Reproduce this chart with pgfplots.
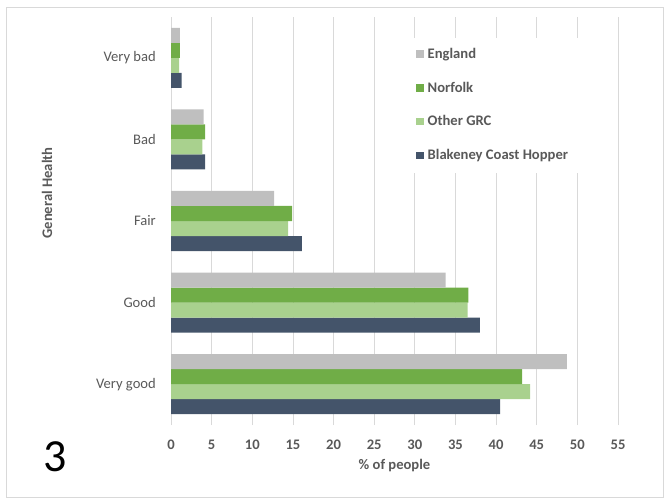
\documentclass[border=0pt]{standalone}
\usepackage{pgfplots}
\pgfplotsset{compat=1.18}
\usepackage{fontspec}
\setmainfont{Carlito}
\definecolor{cEng}{HTML}{BFBFBF}
\definecolor{cNor}{HTML}{70AD47}
\definecolor{cOth}{HTML}{A9D18E}
\definecolor{cBla}{HTML}{44546A}
\definecolor{txt}{HTML}{595959}
\definecolor{grd}{HTML}{D9D9D9}
\begin{document}
\begin{tikzpicture}
\path (0pt,0pt) rectangle (666pt,498pt);
\draw[grd, line width=0.8pt] (6pt,1pt) rectangle (663pt,491pt);
\node[font=\fontsize{46}{46}\selectfont, anchor=center] at (55pt,41pt) {3};
\begin{axis}[
  at={(171pt,73pt)}, anchor=south west,
  scale only axis, width=447pt, height=408pt,
  xbar=0pt, bar width=15pt,
  xmin=0, xmax=55, ymin=-0.5, ymax=4.5,
  xtick={0,5,...,55}, ytick={0,1,2,3,4},
  yticklabels={Very good,Good,Fair,Bad,Very bad},
  xmajorgrids, major grid style={grd, line width=0.8pt},
  axis lines*=left,
  x axis line style={draw=none},
  y axis line style={draw=grd, line width=0.8pt},
  major tick length=0pt,
  /pgf/number format/assume math mode=true,
  xticklabel style={font=\fontsize{14.6}{14.6}\selectfont\bfseries, text=txt, inner sep=0pt, yshift=-15pt},
  yticklabel style={font=\fontsize{14.6}{14.6}\selectfont, text=txt, inner sep=0pt, xshift=-15pt},
  xlabel={\% of people},
  xlabel style={font=\fontsize{14.6}{14.6}\selectfont\bfseries, text=txt, at={(axis description cs:0.5,-0.1005)}, anchor=center},
  ylabel={General Health},
  ylabel style={font=\fontsize{14.6}{14.6}\selectfont\bfseries, text=txt, at={(axis description cs:-0.2774,0.5686)}, anchor=center},
  legend style={at={(axis description cs:0.5213,0.9493)}, anchor=north west, draw=none, fill=white,
    font=\fontsize{14.6}{14.6}\selectfont\bfseries, text=txt, inner xsep=12pt, inner ysep=10.6pt,
    row sep=20.7pt, column sep=4pt, nodes={inner sep=0pt, text height=10pt, text depth=3pt}},
  legend cell align=left,
  reverse legend,
  legend image code/.code={\fill[#1] (0pt,-3pt) rectangle (7.5pt,4.5pt);},
]
\addplot[fill=cBla, draw=none] coordinates {(40.5,0) (38.0,1) (16.1,2) (4.2,3) (1.3,4)};
\addplot[fill=cOth, draw=none] coordinates {(44.2,0) (36.5,1) (14.4,2) (3.85,3) (1.0,4)};
\addplot[fill=cNor, draw=none] coordinates {(43.2,0) (36.6,1) (14.9,2) (4.2,3) (1.1,4)};
\addplot[fill=cEng, draw=none] coordinates {(48.7,0) (33.8,1) (12.7,2) (4.0,3) (1.1,4)};
\legend{Blakeney Coast Hopper, Other GRC, Norfolk, England}
\end{axis}
\end{tikzpicture}
\end{document}
